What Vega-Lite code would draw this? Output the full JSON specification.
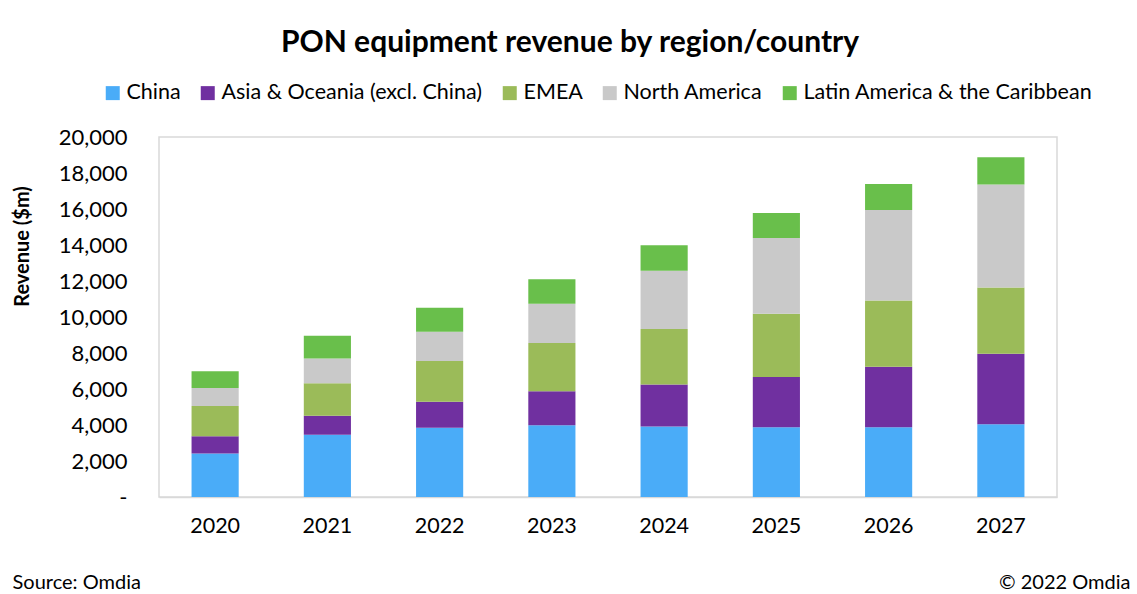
{
  "$schema": "https://vega.github.io/schema/vega-lite/v6.json",
  "width": 898,
  "height": 360,
  "autosize": {"type": "none"},
  "padding": {"left": 159, "top": 137, "right": 80, "bottom": 97},
  "background": "white",
  "title": {
    "text": "PON equipment revenue by region/country",
    "font": "Lato",
    "fontSize": 30,
    "fontWeight": "bold",
    "color": "#000000",
    "anchor": "middle",
    "frame": "group",
    "dx": -38,
    "offset": 24
  },
  "config": {
    "view": {"stroke": "#d9d9d9", "strokeWidth": 1.5},
    "axis": {"labelFont": "Lato", "titleFont": "Lato", "labelColor": "#000000", "titleColor": "#000000"},
    "legend": {"labelFont": "Lato", "labelColor": "#000000"}
  },
  "data": {
    "values": [
      {"year": "2020", "region": "China", "k": 1, "revenue": 2420},
      {"year": "2020", "region": "Asia & Oceania (excl. China)", "k": 2, "revenue": 960},
      {"year": "2020", "region": "EMEA", "k": 3, "revenue": 1680},
      {"year": "2020", "region": "North America", "k": 4, "revenue": 1000},
      {"year": "2020", "region": "Latin America & the Caribbean", "k": 5, "revenue": 920},
      {"year": "2021", "region": "China", "k": 1, "revenue": 3460},
      {"year": "2021", "region": "Asia & Oceania (excl. China)", "k": 2, "revenue": 1050},
      {"year": "2021", "region": "EMEA", "k": 3, "revenue": 1805},
      {"year": "2021", "region": "North America", "k": 4, "revenue": 1385},
      {"year": "2021", "region": "Latin America & the Caribbean", "k": 5, "revenue": 1260},
      {"year": "2022", "region": "China", "k": 1, "revenue": 3845},
      {"year": "2022", "region": "Asia & Oceania (excl. China)", "k": 2, "revenue": 1440},
      {"year": "2022", "region": "EMEA", "k": 3, "revenue": 2270},
      {"year": "2022", "region": "North America", "k": 4, "revenue": 1625},
      {"year": "2022", "region": "Latin America & the Caribbean", "k": 5, "revenue": 1330},
      {"year": "2023", "region": "China", "k": 1, "revenue": 3990},
      {"year": "2023", "region": "Asia & Oceania (excl. China)", "k": 2, "revenue": 1885},
      {"year": "2023", "region": "EMEA", "k": 3, "revenue": 2680},
      {"year": "2023", "region": "North America", "k": 4, "revenue": 2180},
      {"year": "2023", "region": "Latin America & the Caribbean", "k": 5, "revenue": 1360},
      {"year": "2024", "region": "China", "k": 1, "revenue": 3915},
      {"year": "2024", "region": "Asia & Oceania (excl. China)", "k": 2, "revenue": 2330},
      {"year": "2024", "region": "EMEA", "k": 3, "revenue": 3085},
      {"year": "2024", "region": "North America", "k": 4, "revenue": 3245},
      {"year": "2024", "region": "Latin America & the Caribbean", "k": 5, "revenue": 1405},
      {"year": "2025", "region": "China", "k": 1, "revenue": 3880},
      {"year": "2025", "region": "Asia & Oceania (excl. China)", "k": 2, "revenue": 2790},
      {"year": "2025", "region": "EMEA", "k": 3, "revenue": 3510},
      {"year": "2025", "region": "North America", "k": 4, "revenue": 4210},
      {"year": "2025", "region": "Latin America & the Caribbean", "k": 5, "revenue": 1385},
      {"year": "2026", "region": "China", "k": 1, "revenue": 3880},
      {"year": "2026", "region": "Asia & Oceania (excl. China)", "k": 2, "revenue": 3360},
      {"year": "2026", "region": "EMEA", "k": 3, "revenue": 3675},
      {"year": "2026", "region": "North America", "k": 4, "revenue": 5025},
      {"year": "2026", "region": "Latin America & the Caribbean", "k": 5, "revenue": 1455},
      {"year": "2027", "region": "China", "k": 1, "revenue": 4045},
      {"year": "2027", "region": "Asia & Oceania (excl. China)", "k": 2, "revenue": 3915},
      {"year": "2027", "region": "EMEA", "k": 3, "revenue": 3675},
      {"year": "2027", "region": "North America", "k": 4, "revenue": 5730},
      {"year": "2027", "region": "Latin America & the Caribbean", "k": 5, "revenue": 1510}
    ]
  },
  "layer": [
    {
      "mark": {"type": "bar"},
      "encoding": {
        "x": {
          "field": "year",
          "type": "ordinal",
          "scale": {"paddingInner": 0.58, "paddingOuter": 0.29},
          "axis": {
            "orient": "bottom",
            "labelAngle": 0,
            "labelFontSize": 21.5,
            "labelPadding": 18,
            "ticks": false,
            "domainColor": "#d9d9d9",
            "domainWidth": 1.5,
            "title": "Source: Omdia",
            "titleFontSize": 20,
            "titleFontWeight": "normal",
            "titleAnchor": "start",
            "titleAlign": "left",
            "titleBaseline": "middle",
            "titleX": -147,
            "titleY": 85
          }
        },
        "y": {
          "field": "revenue",
          "type": "quantitative",
          "aggregate": "sum",
          "stack": "zero",
          "scale": {"domain": [0, 20000], "nice": false},
          "axis": {
            "values": [0, 2000, 4000, 6000, 8000, 10000, 12000, 14000, 16000, 18000, 20000],
            "labelExpr": "datum.value == 0 ? '-' : format(datum.value, ',')",
            "labelFontSize": 22,
            "labelPadding": 32,
            "ticks": false,
            "domain": false,
            "grid": false,
            "title": "Revenue ($m)",
            "titleFontSize": 20,
            "titleFontWeight": "bold",
            "titleAngle": -90,
            "titleAlign": "center",
            "titleBaseline": "middle",
            "titleX": -137,
            "titleY": 109
          }
        },
        "color": {
          "field": "region",
          "type": "nominal",
          "scale": {
            "domain": ["China", "Asia & Oceania (excl. China)", "EMEA", "North America", "Latin America & the Caribbean"],
            "range": ["#4AACF8", "#7030A0", "#9BBB59", "#C9C9C9", "#69BF4B"]
          },
          "legend": {
            "orient": "none",
            "legendX": -57,
            "legendY": -55,
            "direction": "horizontal",
            "columns": 5,
            "title": null,
            "symbolType": "square",
            "symbolSize": 196,
            "symbolStrokeWidth": 0,
            "symbolOpacity": 1,
            "labelFontSize": 21.5,
            "labelOffset": 3,
            "columnPadding": 16,
            "labelLimit": 400
          }
        },
        "order": {"field": "k", "type": "quantitative", "sort": "ascending"}
      }
    },
    {
      "transform": [{"filter": "false"}],
      "mark": {"type": "bar"},
      "encoding": {
        "x": {
          "field": "year",
          "type": "ordinal",
          "axis": {
            "orient": "bottom",
            "labels": false,
            "ticks": false,
            "domain": false,
            "title": "© 2022 Omdia",
            "titleFont": "Lato",
            "titleFontSize": 20,
            "titleFontWeight": "normal",
            "titleAnchor": "end",
            "titleAlign": "right",
            "titleBaseline": "middle",
            "titleX": 971,
            "titleY": 85
          }
        }
      }
    }
  ],
  "resolve": {"axis": {"x": "independent"}}
}
